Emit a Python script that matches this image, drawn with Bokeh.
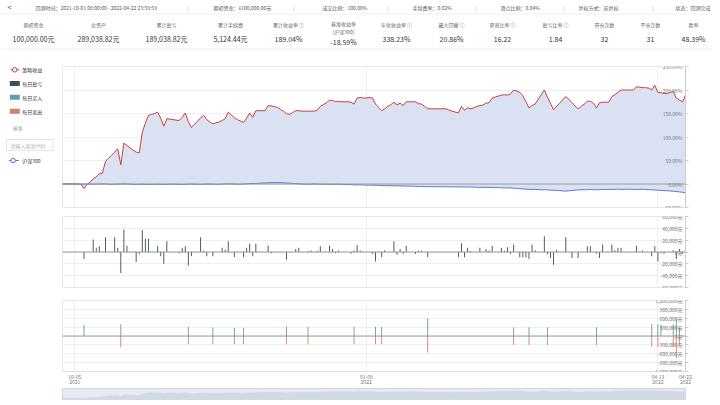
import pandas as pd
from bokeh.plotting import figure
from bokeh.layouts import column, row
from bokeh.models import (Range1d, FixedTicker, LinearAxis, DatetimeAxis, DatetimeTickFormatter,
                          Span, ColumnDataSource, CustomJSTickFormatter, LabelSet)
from bokeh.core.properties import value
from bokeh.embed import file_html
from bokeh.resources import INLINE

FONT = "Noto Sans CJK SC"

# ---------------- data ----------------
start_date, end_date = "2021-10-01", "2022-04-22"

strategy_pct = [
    0, 0, 0, 0, 0, 0, 0, -10, -1, 4,
    11, 15, 22, 23, 48, 55, 61, 68, 75, 41,
    87, 82, 77, 72, 68, 66, 110, 130, 146, 148,
    150, 153, 140, 123, 139, 138, 137, 136, 135, 142,
    151, 133, 120, 127, 134, 141, 146, 137, 132, 128,
    130, 132, 135, 139, 153, 147, 141, 137, 134, 131,
    140, 151, 142, 156, 156, 156, 156, 167, 166, 165,
    163, 159, 155, 150, 148, 152, 156, 156, 155, 155,
    155, 155, 155, 157, 165, 169, 173, 178, 178, 175,
    176, 175, 175, 175, 174, 170, 183, 184, 183, 183,
    184, 183, 170, 163, 156, 160, 165, 169, 174, 168,
    172, 167, 175, 175, 175, 175, 171, 170, 165, 160,
    160, 160, 160, 160, 160, 160, 157, 155, 153, 151,
    165, 157, 162, 160, 162, 165, 167, 168, 172, 173,
    183, 185, 187, 189, 190, 189, 192, 200, 198, 195,
    188, 175, 162, 167, 170, 180, 190, 200, 185, 172,
    158, 165, 172, 179, 186, 180, 173, 166, 160, 165,
    170, 176, 176, 172, 162, 173, 174, 174, 174, 186,
    190, 195, 200, 200, 200, 200, 200, 207, 206, 205,
    205, 204, 200, 210, 195, 194, 193, 192, 195, 197,
    183, 179, 175, 189.04,
]

benchmark_pct = [
    0, 0, 0.3, 0.5, 0.2, -0.3, -0.5, -0.2, 0.1, -0.4,
    -0.6, -0.3, 0, 0.2, -0.1, -0.5, -0.8, -0.6, -0.3, -0.1,
    0.2, 0, -0.4, -0.7, -1, -0.8, -0.6, -0.9, -1.2, -1,
    -0.7, -0.5, -0.8, -1.1, -0.9, -0.6, -0.4, -0.7, -1, -1.2,
    -0.9, -0.6, -0.3, -0.5, -0.8, -1, -0.7, -0.4, -0.2, -0.5,
    -0.8, -0.6, -0.3, 0, 0.3, 0.1, -0.2, -0.5, -0.3, 0,
    0.4, 0.8, 1.2, 1, 1.5, 1.9, 2.2, 2.5, 2.8, 3,
    3.2, 2.9, 2.6, 2.2, 1.8, 1.2, 0.6, 0.3, 0, -0.3,
    -0.5, -0.2, 0.1, -0.3, -0.6, -0.8, -0.5, -0.7, -1, -0.8,
    -0.6, -0.9, -1.2, -1, -1.4, -1.8, -2, -1.6, -2.2, -2.5,
    -2.3, -2.6, -2.9, -2.8, -3.2, -3.4, -3.7, -3.5, -3.9, -4.2,
    -4, -4.3, -4.6, -4.4, -4.7, -5, -5.3, -5.5, -5.3, -5.7,
    -5.5, -5.8, -6, -5.9, -5.7, -6, -6.2, -6.1, -5.9, -6.2,
    -6.1, -6.4, -6.6, -6.3, -6.6, -6.9, -7.1, -7, -7.3, -7.1,
    -7.5, -7.8, -7.6, -8, -8.3, -8.1, -8.6, -9, -9.5, -10,
    -10.5, -11, -11.4, -11.8, -11.5, -12, -12.4, -12, -12.6, -13,
    -13.3, -13.8, -14.2, -14.8, -15.2, -14.5, -13.8, -13.2, -12.6, -12.2,
    -12.5, -12, -11.6, -12, -12.4, -12, -11.6, -11.8, -11.4, -11.6,
    -11.2, -11, -11.3, -11.6, -11.2, -11, -11.4, -11.8, -11.5, -11.2,
    -11.6, -12, -12.4, -12.8, -13.2, -13.6, -14, -14.4, -14.8, -15.4,
    -16, -16.8, -17.6, -18.59,
]

daily_pnl = [
    0, 0, 0, 0, 0, 0, 0, -12000, 0, 0,
    21000, 7000, 9600, 0, 25000, 0, 0, 25000, 7000, -35600,
    38000, 10700, 0, 0, -17000, -3400, 36700, 22600, 22600, 0,
    0, 9600, -7000, -20000, 18000, 0, 0, 0, -2000, 7000,
    9600, -23000, -7000, 0, 0, 25000, 2000, -7000, 0, -7000,
    0, 0, 7000, 4000, 18000, 0, -8500, 0, 0, -8500,
    7000, 14000, -7000, 14000, 0, 0, 0, 11000, -2000, 0,
    0, 0, 0, -13000, 0, 0, 5000, 7000, 0, 0,
    1500, 2500, 0, 2000, 9600, 0, 0, 11000, 5000, -2000,
    2500, 0, 0, 0, -3000, 2500, 12000, 2500, 500, 0,
    0, -3000, -16000, 0, -9000, 3000, 0, 0, 18000, -4500,
    5000, -3000, 10700, 0, 0, -3400, 2000, 2500, 0, -9000,
    0, 0, 0, 0, 0, 0, 0, 0, 0, -9000,
    15000, -9000, 7000, 1500, 0, 0, 7000, 500, 5000, 2500,
    10700, 0, 0, 7000, 2000, 8000, -3000, 12500, 0, -9000,
    -9000, -9000, -12000, 12500, 3000, 0, 0, 26500, -4000, -10000,
    -21500, 4000, 0, 0, 25000, 0, -10000, 0, -10000, 0,
    0, 9600, 9600, 0, -3000, -10000, 12500, 0, 0, 12500,
    3000, 7000, 7000, 0, 0, 0, 0, 10700, 1000, 2000,
    0, 0, -7000, 9600, -16000, -2000, -3000, 0, 0, 3000,
    -12000, 5000, -3000, 15000,
]

trade_dates = ["2021-10-08", "2021-10-20", "2021-11-11", "2021-11-19", "2021-11-26",
               "2021-11-29", "2021-12-13", "2021-12-20", "2022-01-04", "2022-01-11",
               "2022-01-13", "2022-01-28", "2022-02-25", "2022-03-02", "2022-03-08",
               "2022-03-24", "2022-04-11", "2022-04-13", "2022-04-14", "2022-04-18",
               "2022-04-19", "2022-04-20"]
buy_amount = [370000, 400000, 315000, 290000, 270000,
              270000, 315000, 315000, 315000, 315000,
              315000, 600000, 300000, 300000, 300000,
              300000, 400000, 400000, 400000, 400000,
              580000, 300000]
sell_amount = [0, -380000, -280000, -280000, -280000,
               -280000, -280000, -280000, -280000, -280000,
               -280000, -560000, -300000, -300000, -300000,
               -300000, -360000, -360000, 0, -360000,
               -750000, -300000]

x_tick_dates = ["2021-10-05", "2022-01-08", "2022-04-13", "2022-04-22"]
ret_ticks = [-50, 0, 50, 100, 150, 200, 250]
pnl_ticks = [-60000, -40000, -20000, 0, 20000, 40000, 60000]
trade_ticks = [-1200000, -900000, -600000, -300000, 0, 300000, 600000, 900000, 1200000]

info_texts = ["回测时间：2021-10-01 08:00:00 - 2022-04-22 23:59:59", "期初资金：¥100,000.00元",
              "成交比例：100.00%", "手续费率：0.02%", "滑点比例：0.04%", "复权方式：前复权", "状态：回测完成"]
stat_labels = ["期初资金", "总资产", "累计盈亏", "累计手续费", "累计收益率 ⓘ", "基准收益率",
               "年化收益率 ⓘ", "最大回撤 ⓘ", "夏普比率 ⓘ", "盈亏比率 ⓘ", "开仓次数", "平仓次数", "胜率"]
stat_values = ["100,000.00元", "289,038.82元", "189,038.82元", "5,124.44元", "189.04%", "-18.59%",
               "338.23%", "20.86%", "16.22", "1.84", "32", "31", "48.39%"]
legend_labels = ["策略收益", "每日盈亏", "每日买入", "每日卖出"]
bench_label = "沪深300"

# ---------------- styling constants ----------------
C_STRAT = "#c9403a"
C_PNL = "#3d4f5f"
C_BUY = "#61a0a8"
C_SELL = "#d48265"
C_BENCH = "#5a79d3"
C_AREA = "#d9e1f3"
GRID = "#eeeeee"
LBL = "#777777"

dates = pd.date_range(start_date, end_date, freq="D")
xt_ms = [pd.Timestamp(d).value / 1e6 for d in x_tick_dates]
x_range = Range1d(dates[0], dates[-1])

W = 712
LEG_W = 62
CH_W = W - LEG_W
R_BORDER = 27
H_MAIN, H_PNL, H_TRD, H_SLD = 161, 81, 95, 13


def make_panel(height, yr, yticks, ylabels, top, bottom):
    p = figure(width=CH_W, height=height, x_range=x_range, y_range=Range1d(*yr),
               x_axis_type="datetime", x_axis_location=None, y_axis_location=None,
               output_backend="svg", toolbar_location=None,
               min_border_left=0, min_border_right=R_BORDER,
               min_border_top=top, min_border_bottom=bottom)
    p.outline_line_color = "#e6e6e6"
    p.background_fill_color = "white"
    p.border_fill_color = "white"
    p.ygrid.ticker = FixedTicker(ticks=yticks)
    p.xgrid.ticker = FixedTicker(ticks=xt_ms)
    p.ygrid.grid_line_color = GRID
    p.xgrid.grid_line_color = GRID
    ax = LinearAxis(ticker=FixedTicker(ticks=yticks),
                    formatter=CustomJSTickFormatter(code="return ''"),
                    axis_line_color="#cccccc", major_tick_line_color="#cccccc",
                    major_tick_out=3, major_tick_in=0, minor_tick_line_color=None,
                    major_label_standoff=0)
    p.add_layout(ax, "right")
    src = ColumnDataSource(dict(x=[dates[-1]] * len(yticks), y=yticks, t=ylabels))
    p.add_layout(LabelSet(x="x", y="y", text="t", source=src, x_offset=-3,
                          text_align="right", text_baseline="middle",
                          text_font=value(FONT), text_font_size="5px", text_color=LBL))
    return p


src = ColumnDataSource(dict(date=dates, strat=strategy_pct, bench=benchmark_pct, pnl=daily_pnl))
tsrc = ColumnDataSource(dict(date=pd.to_datetime(trade_dates), buy=buy_amount, sell=sell_amount))
DAY = 86400000

# main panel
p1 = make_panel(H_MAIN, (-50, 250), ret_ticks, [f"{t:.2f}%" for t in ret_ticks], 16, 4)
p1.varea(x="date", y1=0, y2="strat", source=src, fill_color=C_AREA, fill_alpha=1)
p1.varea(x="date", y1=0, y2="bench", source=src, fill_color=C_AREA, fill_alpha=1)
p1.add_layout(Span(location=0, dimension="width", line_color="#9a9a9a", line_width=1))
p1.line(x="date", y="strat", source=src, line_color=C_STRAT, line_width=1)
p1.line(x="date", y="bench", source=src, line_color=C_BENCH, line_width=1)

# pnl panel
p2 = make_panel(H_PNL, (-60000, 60000), pnl_ticks, [f"{t:,}元" for t in pnl_ticks], 5, 5)
p2.add_layout(Span(location=0, dimension="width", line_color="#9a9a9a", line_width=1))
p2.vbar(x="date", top="pnl", bottom=0, width=0.3 * DAY, source=src,
        fill_color=C_PNL, line_color=None)

# trade panel
p3 = make_panel(H_TRD, (-1200000, 1200000), trade_ticks, [f"{t:,}元" for t in trade_ticks], 8, 16)
p3.add_layout(Span(location=0, dimension="width", line_color="#9a9a9a", line_width=1))
p3.vbar(x="date", top="buy", bottom=0, width=0.3 * DAY, source=tsrc, fill_color=C_BUY, line_color=None)
p3.vbar(x="date", top="sell", bottom=0, width=0.3 * DAY, source=tsrc, fill_color=C_SELL, line_color=None)


def fmt(f):
    return DatetimeTickFormatter(milliseconds=f, seconds=f, minsec=f, minutes=f, hourmin=f,
                                 hours=f, days=f, months=f, years=f)


for f, line, so in (("%m-%d", "#dddddd", 3), ("%Y", None, -2)):
    xa = DatetimeAxis(ticker=FixedTicker(ticks=xt_ms), formatter=fmt(f),
                      axis_line_color=line, major_tick_line_color=None,
                      major_tick_out=0, major_tick_in=0, minor_tick_line_color=None,
                      major_label_standoff=so, major_label_text_font=FONT,
                      major_label_text_font_size="5px", major_label_text_color=LBL)
    p3.add_layout(xa, "below")

# slider
p4 = figure(width=CH_W, height=H_SLD, x_range=x_range, y_range=Range1d(-80, 260),
            x_axis_type="datetime", x_axis_location=None, y_axis_location=None,
            output_backend="svg", toolbar_location=None,
            min_border_left=0, min_border_right=R_BORDER, min_border_top=1, min_border_bottom=0)
p4.grid.visible = False
p4.background_fill_color = "#e6ebf2"
p4.outline_line_color = "#cfd6e1"
p4.varea(x="date", y1=-80, y2="strat", source=src, fill_color="#d2d9e5", fill_alpha=1)

# legend figure (pixel coordinates, y downwards)
LEG_H = H_MAIN + H_PNL + H_TRD + H_SLD
leg = figure(width=LEG_W, height=LEG_H, x_range=Range1d(0, LEG_W),
             y_range=Range1d(LEG_H, 0), x_axis_location=None, y_axis_location=None,
             output_backend="svg", toolbar_location=None, min_border=0)
leg.grid.visible = False
leg.outline_line_color = None
TF = value(FONT)
leg.line(x=[10, 18.5], y=[19.3, 19.3], line_color=C_STRAT, line_width=1)
leg.scatter(x=[14.2], y=[19.3], size=4.5, marker="circle", fill_color="white", line_color=C_STRAT)
leg.rect(x=[14.3] * 3, y=[33, 46.7, 60.7], width=10, height=5, fill_color=[C_PNL, C_BUY, C_SELL], line_color=None)
leg.text(x=[21.7] * 4, y=[19.3, 33, 46.7, 60.7], text=legend_labels, text_font=TF, text_font_size="5px",
         text_color="#333333", text_baseline="middle")
leg.text(x=[17.3], y=[76.7], text=["基准"], text_font=TF, text_font_size="5px", text_color="#999999",
         text_baseline="middle", text_align="center")
leg.rect(x=[29.3], y=[94.5], width=46.7, height=11, fill_color="white", line_color="#dddddd", line_width=0.8)
leg.text(x=[10], y=[94.5], text=["请输入基准代码"], text_font=TF, text_font_size="5px", text_color="#b5b5b5",
         text_baseline="middle")
leg.line(x=[8.3, 18.3], y=[110, 110], line_color=C_BENCH, line_width=1)
leg.scatter(x=[12.7], y=[110], size=4.5, marker="circle", fill_color="white", line_color=C_BENCH)
leg.text(x=[21.7], y=[110], text=[bench_label], text_font=TF, text_font_size="5px", text_color="#333333",
         text_baseline="middle")

# header figure (pixel coordinates, y downwards)
H_HDR = 50
hdr = figure(width=W, height=H_HDR, x_range=Range1d(0, W), y_range=Range1d(H_HDR, 0),
             x_axis_location=None, y_axis_location=None, output_backend="svg",
             toolbar_location=None, min_border=0)
hdr.grid.visible = False
hdr.outline_line_color = None
info_x = [35, 213, 322, 412, 500, 578, 675]
sep_x = [187, 293, 387, 475, 563, 652]
hdr.text(x=[7], y=[6.5], text=["<"], text_font=TF, text_font_size="7px", text_color="#555555",
         text_baseline="middle")
hdr.text(x=info_x, y=[6.5] * len(info_x), text=info_texts, text_font=TF, text_font_size="5px",
         text_color="#555555", text_baseline="middle")
hdr.text(x=sep_x, y=[6.5] * len(sep_x), text=["|"] * len(sep_x), text_font=TF, text_font_size="5px",
         text_color="#999999", text_baseline="middle")
stat_x = [33, 98, 166, 230, 288, 343, 396, 451, 502, 555, 604, 650, 693]
lab_y = [23.5] * len(stat_x)
val_y = [38.5] * len(stat_x)
lab_y[5] = 22.5
val_y[5] = 41
hdr.text(x=stat_x, y=lab_y, text=stat_labels, text_font=TF, text_font_size="5px",
         text_color="#666666", text_baseline="middle", text_align="center")
hdr.text(x=[stat_x[5]], y=[30.5], text=["(沪深300)"], text_font=TF, text_font_size="5px",
         text_color="#666666", text_baseline="middle", text_align="center")
hdr.text(x=stat_x, y=val_y, text=stat_values, text_font=TF, text_font_size="7px",
         text_color="#333333", text_baseline="middle", text_align="center")
hdr.line(x=[0, W], y=[13.5, 13.5], line_color="#f0f0f0", line_width=1)
hdr.line(x=[0, W], y=[48.5, 48.5], line_color="#eeeeee", line_width=1)

layout = column(hdr, row(leg, column(p1, p2, p3, p4)))

with open("out.html", "w") as fh:
    fh.write(file_html(layout, INLINE, title="backtest"))
